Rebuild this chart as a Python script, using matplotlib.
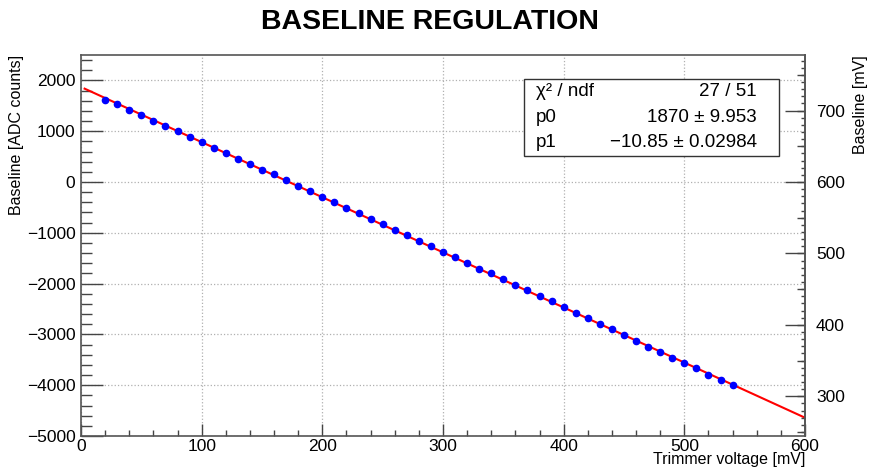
import matplotlib
matplotlib.use("Agg")
import matplotlib.pyplot as plt
from matplotlib.ticker import MultipleLocator, NullFormatter
import numpy as np

plt.rcParams['font.family'] = ['Liberation Sans', 'DejaVu Sans']

# measured baseline vs trimmer voltage
trimmer_mv = [20, 30, 40, 50, 60, 70, 80, 90, 100, 110, 120, 130, 140, 150, 160, 170, 180,
              190, 200, 210, 220, 230, 240, 250, 260, 270, 280, 290, 300, 310, 320, 330,
              340, 350, 360, 370, 380, 390, 400, 410, 420, 430, 440, 450, 460, 470, 480,
              490, 500, 510, 520, 530, 540]
baseline_adc = [1620, 1530, 1415, 1315, 1200, 1110, 1000, 890, 795, 675, 570, 460, 355, 245,
                150, 40, -80, -185, -290, -400, -510, -615, -725, -825, -945, -1040, -1160,
                -1265, -1375, -1480, -1600, -1705, -1800, -1915, -2020, -2135, -2245, -2350,
                -2455, -2580, -2685, -2790, -2895, -3015, -3130, -3245, -3340, -3460, -3570,
                -3670, -3790, -3890, -3995]
baseline_err = 25

# linear fit result
p0, p0_err = 1870, 9.953
p1, p1_err = -10.85, 0.02984
chi2, ndf = 27, 51

# ADC -> mV conversion for the right axis
mv_offset = 600.0
mv_per_adc = 0.0711

xlim = (0, 600)
ylim = (-5000, 2500)

fig = plt.figure(figsize=(8.82, 4.73), dpi=100)
ax = fig.add_axes([81 / 882, 1 - 436 / 473, (805 - 81) / 882, (436 - 55) / 473])

ax.set_xlim(*xlim)
ax.set_ylim(*ylim)

# fit line
fx = np.linspace(3, xlim[1], 200)
ax.plot(fx, p0 + p1 * fx, color='red', lw=1.5, zorder=3)

ax.errorbar(trimmer_mv, baseline_adc, yerr=baseline_err, fmt='o', color='blue',
            ms=4.5, elinewidth=1.8, capsize=0, zorder=4)

ax.grid(True, which='major', color='#b0b0b0', linestyle=':', lw=0.9)
ax.set_axisbelow(True)

ax.xaxis.set_major_locator(MultipleLocator(100))
ax.xaxis.set_minor_locator(MultipleLocator(20))
ax.yaxis.set_major_locator(MultipleLocator(1000))
ax.yaxis.set_minor_locator(MultipleLocator(200))
ax.tick_params(axis='x', which='major', direction='in', length=8.6, width=1, color='#444',
               labelsize=12.5, pad=2)
ax.tick_params(axis='x', which='minor', direction='in', length=4.3, width=1, color='#444')
ax.tick_params(axis='y', which='major', direction='in', length=15.8, width=1, color='#444',
               labelsize=12.5, pad=4, right=False)
ax.tick_params(axis='y', which='minor', direction='in', length=7.9, width=1, color='#444',
               right=False)
for s in ax.spines.values():
    s.set_color('#555')
    s.set_linewidth(1.2)

ax.set_xlabel('Trimmer voltage [mV]', fontsize=11.5, loc='right', labelpad=-1)
ax.set_ylabel('Baseline [ADC counts]', fontsize=11.5, loc='top', labelpad=2)

# right axis in mV
mv_lim = (mv_offset + ylim[0] * mv_per_adc, mv_offset + ylim[1] * mv_per_adc)
ax3 = ax.twinx()
ax3.set_ylim(*mv_lim)
ax3.yaxis.set_major_locator(MultipleLocator(50))
ax3.yaxis.set_major_formatter(NullFormatter())
ax3.tick_params(axis='y', which='major', direction='in', length=6, width=1, color='#444')
for s in ax3.spines.values():
    s.set_visible(False)

ax2 = ax.twinx()
ax2.set_ylim(*mv_lim)
ax2.yaxis.set_major_locator(MultipleLocator(100))
ax2.yaxis.set_minor_locator(MultipleLocator(10))
ax2.tick_params(axis='y', which='major', direction='in', length=14.4, width=1, color='#444',
                labelsize=12.5, pad=8)
ax2.tick_params(axis='y', which='minor', direction='in', length=3, width=1, color='#444')
for s in ax2.spines.values():
    s.set_visible(False)
ax2.spines['right'].set_visible(True)
ax2.spines['right'].set_color('#555')
ax2.spines['right'].set_linewidth(1.2)
ax2.set_ylabel('Baseline [mV]', fontsize=11.5, loc='top', labelpad=6)

# stats box
bx0, bx1 = 524 / 882, 779 / 882
by0, by1 = 1 - 156 / 473, 1 - 79 / 473
fig.patches.append(plt.Rectangle((bx0, by0), bx1 - bx0, by1 - by0, transform=fig.transFigure,
                                 facecolor='white', edgecolor='#333', lw=1, zorder=5))
rows = [('χ² / ndf', f'{chi2} / {ndf}'),
        ('p0', f'{p0} ± {p0_err}'),
        ('p1', f'{p1:.2f} ± {p1_err}'.replace('-', '\u2212'))]
for i, (name, val) in enumerate(rows):
    yy = 1 - (92 + 25 * i) / 473
    fig.text(536 / 882, yy, name, fontsize=13.5, va='center', ha='left', zorder=6)
    fig.text(757 / 882, yy, val, fontsize=13.5, va='center', ha='right', zorder=6)

fig.text(430 / 882, 1 - 22 / 473, 'BASELINE REGULATION', fontsize=20.5, fontweight='bold',
         ha='center', va='center')

fig.savefig('out.png', dpi=100)
